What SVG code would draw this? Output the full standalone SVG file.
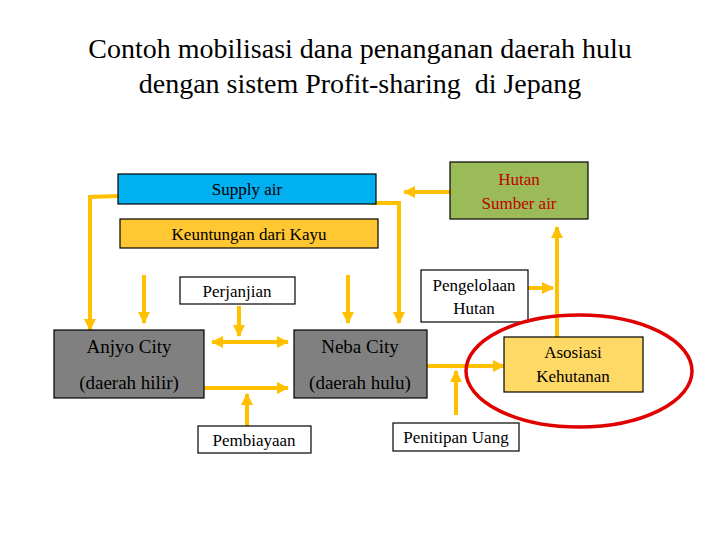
<svg xmlns="http://www.w3.org/2000/svg" width="720" height="540" viewBox="0 0 720 540">
<defs>
<marker id="ah" markerUnits="userSpaceOnUse" markerWidth="12" markerHeight="12" viewBox="0 0 12 12" refX="11" refY="6" orient="auto-start-reverse">
<path d="M0,0 L12,6 L0,12 Z" fill="#FFC000"/>
</marker>
</defs>
<style>
text{font-family:'Liberation Serif','Times New Roman',serif;fill:#000;text-anchor:middle}
.title{font-size:28px}
.lb{font-size:17px}
.lbb{font-size:19px}
.box{stroke:#000;stroke-width:1.2}
.c{fill:none;stroke:#FFC000;stroke-width:4}
.a{marker-end:url(#ah)}
</style>
<rect width="720" height="540" fill="#fff"/>
<g id="title">
<text class="title" x="360" y="58">Contoh mobilisasi dana penanganan daerah hulu</text>
<text class="title" x="360" y="93" xml:space="preserve">dengan sistem Profit-sharing  di Jepang</text>
</g>
<g id="connectors">
<path class="c a" d="M118,196 L90,197 L90,330"/>
<path class="c a" d="M372,203 L399,203 L399,323"/>
<path class="c a" d="M450,192 L404,192"/>
<path class="c a" d="M144,275 L144,323"/>
<path class="c a" d="M348,275 L348,323"/>
<path class="c a" d="M239,306 L239,336"/>
<path class="c a" d="M212,342 L288,342" style="marker-start:url(#ah)"/>
<path class="c a" d="M204,388 L288,388"/>
<path class="c a" d="M247,428 L247,394"/>
<path class="c a" d="M528,288 L553,288"/>
<path class="c a" d="M557,337 L557,227"/>
<path class="c a" d="M427,366 L504,366"/>
<path class="c a" d="M456,415 L456,371"/>
</g>
<g id="supply">
<rect class="box" x="118" y="174" width="258" height="30" fill="#00B0F0"/>
<text class="lb" x="247" y="195">Supply air</text>
</g>
<g id="keuntungan">
<rect class="box" x="120" y="219" width="258" height="29" fill="#FFC832"/>
<text class="lb" x="249" y="240">Keuntungan dari Kayu</text>
</g>
<g id="hutan">
<rect class="box" x="450" y="162" width="138" height="57" fill="#9BBB59"/>
<text class="lb" x="519" y="185" style="fill:#C00000">Hutan</text>
<text class="lb" x="519" y="209" style="fill:#C00000">Sumber air</text>
</g>
<g id="perjanjian">
<rect class="box" x="180" y="277" width="115" height="27" fill="#fff"/>
<text class="lb" x="237" y="297">Perjanjian</text>
</g>
<g id="pengelolaan">
<rect class="box" x="421" y="270" width="107" height="52" fill="#fff"/>
<text class="lb" x="474" y="291">Pengelolaan</text>
<text class="lb" x="474" y="314">Hutan</text>
</g>
<g id="anjyo">
<rect class="box" x="54" y="330" width="150" height="68" fill="#808080"/>
<text class="lbb" x="129" y="353">Anjyo City</text>
<text class="lbb" x="129" y="389">(daerah hilir)</text>
</g>
<g id="neba">
<rect class="box" x="294" y="330" width="133" height="68" fill="#808080"/>
<text class="lbb" x="360" y="353">Neba City</text>
<text class="lbb" x="360" y="389">(daerah hulu)</text>
</g>
<g id="asosiasi">
<rect class="box" x="504" y="337" width="139" height="55" fill="#FFD966"/>
<text class="lb" x="573" y="358">Asosiasi</text>
<text class="lb" x="573" y="382">Kehutanan</text>
</g>
<g id="pembiayaan">
<rect class="box" x="198" y="426" width="113" height="27" fill="#fff"/>
<text class="lb" x="254" y="446">Pembiayaan</text>
</g>
<g id="penitipan">
<rect class="box" x="393" y="423" width="126" height="28" fill="#fff"/>
<text class="lb" x="456" y="443">Penitipan Uang</text>
</g>
<ellipse cx="579" cy="371" rx="113" ry="56" fill="none" stroke="#E00000" stroke-width="3.5"/>
</svg>
